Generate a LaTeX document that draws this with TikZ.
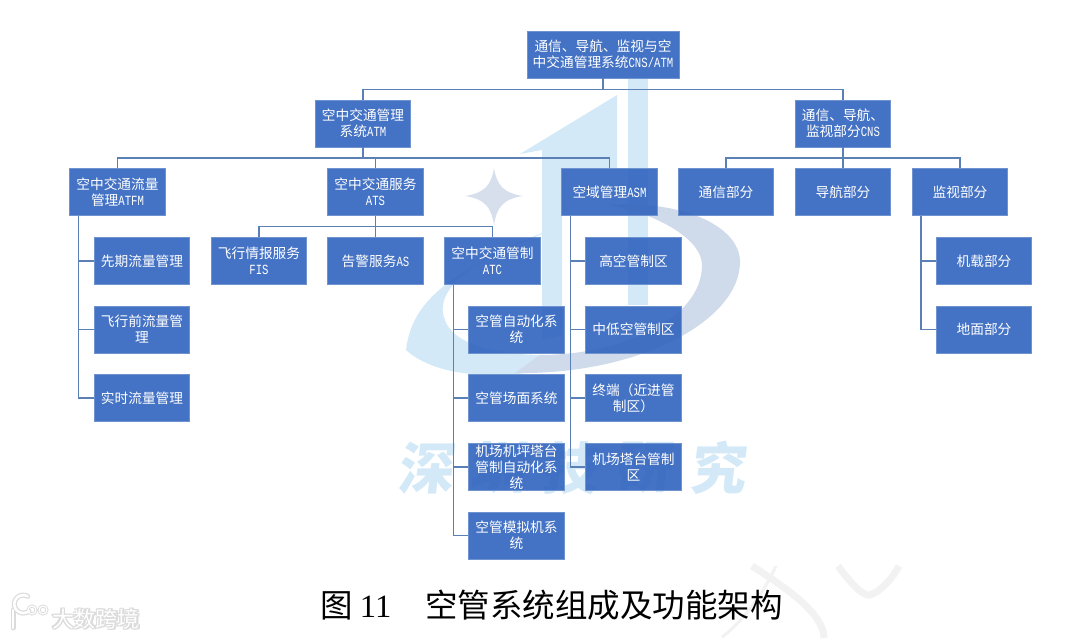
\documentclass[tikz,border=0pt]{standalone}
\usepackage{fontspec}
\setmainfont{Noto Sans CJK SC}
\newfontfamily\latn[FakeStretch=.76]{Liberation Mono}
\newfontfamily\capl{Liberation Serif}
\newcommand{\La}[1]{{\latn\fontsize{14}{16}\selectfont #1}}
\usetikzlibrary{calc}
\definecolor{boxfill}{HTML}{3466BF}
\definecolor{boxedge}{HTML}{6F93CF}
\definecolor{linkc}{HTML}{5B80B6}
\definecolor{wmblue}{HTML}{D3E9F7}
\definecolor{wmgray}{HTML}{CFDAEA}
\definecolor{wmstar}{HTML}{D7DFED}
\definecolor{faint}{HTML}{F2F2F2}
\tikzset{
  box/.style={draw=boxedge,line width=.6pt,fill=boxfill,fill opacity=.92,text opacity=1,text=white,
    minimum width=95.5pt,minimum height=47pt,inner sep=0pt,text width=90pt,align=center,
    font=\fontsize{13.7}{16}\selectfont},
  link/.style={draw=linkc,line width=1.6pt},
  wmtext/.style={text=wmblue,inner sep=0pt,font=\fontsize{56}{60}\selectfont\bfseries,xslant=.12},
  logotext/.style={inner sep=0pt,font=\fontsize{22}{24}\selectfont},
  faintline/.style={draw=faint,line width=7pt}
}
\begin{document}
\begin{tikzpicture}[x=1pt,y=-1pt]
\useasboundingbox (0,0) rectangle (1080,638);
% watermark, building
\fill[wmblue] (617,95) -- (520,154) -- (542,150) -- (542,340) -- (562,335) -- (562,168) -- (617,168) -- cycle;
\fill[wmblue] (628,78) rectangle (648,305);
% watermark, swoosh
\fill[wmblue] (406,350) .. controls (412,300) and (450,270) .. (562,226)
  .. controls (490,250) and (430,285) .. (445,320)
  .. controls (452,342) and (490,355) .. (545,355)
  -- (540,371) .. controls (480,381) and (430,372) .. cycle;
\fill[wmgray] (540,355) .. controls (620,355) and (702,320) .. (702,265)
  .. controls (702,240) and (660,215) .. (610,205)
  .. controls (680,200) and (740,225) .. (740,262)
  .. controls (740,320) and (640,375) .. (515,373) -- cycle;
% watermark, star
\fill[wmstar] (494,168) .. controls (497,186) and (504,193) .. (523,196)
  .. controls (504,199) and (497,206) .. (494,225)
  .. controls (491,206) and (484,199) .. (465,196)
  .. controls (484,193) and (491,186) .. cycle;
% watermark, text
\node[wmtext] (wm1) at (428,468) {深};
\node[wmtext] (wm2) at (500,468) {圳};
\node[wmtext] (wm3) at (572,468) {技};
\node[wmtext] (wm4) at (646,468) {研};
\node[wmtext] (wm5) at (720,468) {究};
% faint strokes, lower right
\draw[faintline] (752,566) .. controls (790,590) and (824,615) .. (824,638);
\draw[faintline,line width=3pt] (776,566) .. controls (765,590) and (745,620) .. (722,637);
\draw[faintline] (838,566) .. controls (850,582) and (862,596) .. (870,595) .. controls (880,592) and (893,578) .. (899,566);
% nodes
\node[box,minimum width=152pt,text width=150pt] (top) at (603,54.5) {通信、导航、监视与空\\中交通管理系统\La{CNS/ATM}};
\node[box] (atm) at (363,123.5) {空中交通管理\\系统\La{ATM}};
\node[box] (cns) at (843,123.5) {通信、导航、\\监视部分\La{CNS}};
\node[box] (atfm) at (117.5,192) {空中交通流量\\管理\La{ATFM}};
\node[box] (ats) at (375.5,192) {空中交通服务\\\La{ATS}};
\node[box] (asm) at (609.5,192) {空域管理\La{ASM}};
\node[box] (comm) at (726,192) {通信部分};
\node[box] (nav) at (843,192) {导航部分};
\node[box] (surv) at (960,192) {监视部分};
\node[box] (fis) at (259,261) {飞行情报服务\\\La{FIS}};
\node[box] (as) at (375.5,261) {告警服务\La{AS}};
\node[box] (atc) at (492.5,261) {空中交通管制\\\La{ATC}};
\node[box] (f1) at (142,261) {先期流量管理};
\node[box] (f2) at (142,329.5) {飞行前流量管\\理};
\node[box] (f3) at (142,398) {实时流量管理};
\node[box] (c1) at (516.5,329.5) {空管自动化系\\统};
\node[box] (c2) at (516.5,398) {空管场面系统};
\node[box] (c3) at (516.5,467) {机场机坪塔台\\管制自动化系\\统};
\node[box] (c4) at (516.5,535.5) {空管模拟机系\\统};
\node[box] (a1) at (633.5,261) {高空管制区};
\node[box] (a2) at (633.5,329.5) {中低空管制区};
\node[box] (a3) at (633.5,398) {终端（近进管\\制区）};
\node[box] (a4) at (633.5,467) {机场塔台管制\\区};
\node[box] (s1) at (984,261) {机载部分};
\node[box] (s2) at (984,329.5) {地面部分};
% connectors
\foreach \t in {atm,cns}
  \draw[link] (top.south) -- ++(0,11) -| (\t.north);
\foreach \t in {atfm,ats,asm}
  \draw[link] (atm.south) -- ++(0,10.5) -| (\t.north);
\foreach \t in {comm,nav,surv}
  \draw[link] (cns.south) -- ++(0,10.5) -| (\t.north);
\foreach \t in {fis,as,atc}
  \draw[link] (ats.south) -- ++(0,10.5) -| (\t.north);
\foreach \t in {f1,f2,f3}
  \draw[link] ($(atfm.south west)+(9,0)$) |- (\t.west);
\foreach \t in {c1,c2,c3,c4}
  \draw[link] ($(atc.south west)+(9,0)$) |- (\t.west);
\foreach \t in {a1,a2,a3,a4}
  \draw[link] ($(asm.south west)+(9,0)$) |- (\t.west);
\foreach \t in {s1,s2}
  \draw[link] ($(surv.south west)+(9,0)$) |- (\t.west);
% caption
\node[inner sep=0pt,anchor=west,text=black,font=\fontsize{32.5}{36}\selectfont] (cap) at (320,605) {图 {\capl 11}\hspace{34pt}空管系统组成及功能架构};
% logo, lower left
\foreach \dx/\dy in {-1/0,1/0,0/-1,0/1,-1.5/-1,1.5/1,1/-1,-1/1}
  \node[logotext,text=black!14] at ($(96,619)+(\dx,\dy)$) {大数跨境};
\node[logotext,text=white] (logo) at (96,619) {大数跨境};
\draw[black!14,line width=5pt,line cap=round] (13,610) -- (13,628);
\draw[black!14,line width=5pt,line cap=round] (29,611) arc[start angle=-50,end angle=-300,radius=9pt];
\draw[black!14,line width=3pt] (32,610) circle[radius=4pt] (43,610) circle[radius=4pt];
\draw[white,line width=2.6pt,line cap=round] (13,610) -- (13,628);
\draw[white,line width=2.6pt,line cap=round] (29,611) arc[start angle=-50,end angle=-300,radius=9pt];
\draw[white,line width=1.2pt] (32,610) circle[radius=4pt] (43,610) circle[radius=4pt];
\end{tikzpicture}
\end{document}
